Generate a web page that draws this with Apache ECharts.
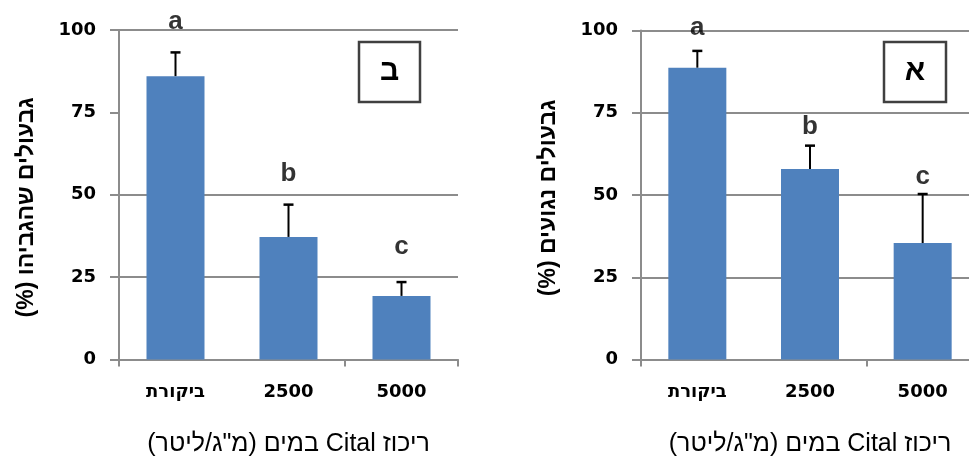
<!DOCTYPE html>
<html>
<head>
<meta charset="utf-8">
<script src="https://cdn.jsdelivr.net/npm/echarts@6/dist/echarts.min.js"></script>
<style>
html,body{margin:0;padding:0;background:#fff;overflow:hidden;}
#c{width:969px;height:457px;}
</style>
</head>
<body>
<div id="c"></div>
<script>
// ---- data ----
const categories = ['ביקורת', '2500', '5000'];
const yTicks = [0, 25, 50, 75, 100];
// panel ב (left): stems that were lifted
const meansB = [86.0, 37.2, 19.3];
const errB = [7.2, 9.8, 4.2];
const lettersB = ['a', 'b', 'c'];
const letterLevelB = [102.6, 56.3, 34.3];
// panel א (right): infected stems
const meansA = [88.7, 57.9, 35.4];
const errA = [5.1, 7.1, 14.9];
const lettersA = ['a', 'b', 'c'];
const letterLevelA = [100.8, 70.6, 55.6];

const RLE = '\u202B', PDF = '\u202C';
const xTitle = RLE + 'ריכוז Cital במים (מ"ג/ליטר)' + PDF;
const yTitleB = RLE + 'גבעולים שהגביהו (%)' + PDF;
const yTitleA = RLE + 'גבעולים נגועים (%)' + PDF;
const panelB = 'ב';
const panelA = 'א';

// ---- styles ----
const GRAY = '#8c8c8c';
const BAR = '#4f81bd';
const tickFont = {fontFamily: 'DejaVu Sans', fontWeight: 'bold', fontSize: 18, color: '#000'};

function xAxis(gi) {
  return {
    type: 'category', gridIndex: gi, data: categories,
    axisLine: {lineStyle: {color: GRAY, width: 2}},
    axisTick: {show: true, interval: 1, length: 7, lineStyle: {color: GRAY, width: 2}},
    axisLabel: Object.assign({margin: 24, interval: 0, formatter: v => (v === categories[0] ? RLE + v + PDF : v)}, tickFont),
    name: xTitle, nameLocation: 'middle', nameGap: 72,
    nameTextStyle: {fontFamily: 'Liberation Sans', fontSize: 25, color: '#000'}
  };
}
function yAxis(gi, hide75) {
  const c = hide75 ? [GRAY, GRAY, GRAY, 'rgba(0,0,0,0)', GRAY] : GRAY;
  return {
    type: 'value', gridIndex: gi, min: yTicks[0], max: yTicks[yTicks.length - 1], interval: 25,
    axisLine: {show: true, lineStyle: {color: GRAY, width: 2}},
    axisTick: {show: true, length: 9, lineStyle: {color: GRAY, width: 2}},
    axisLabel: Object.assign({margin: 23}, tickFont),
    splitLine: {show: true, lineStyle: {color: c, width: 2}}
  };
}
function barSeries(gi, means) {
  return {type: 'bar', xAxisIndex: gi, yAxisIndex: gi, data: means, barWidth: 58,
    itemStyle: {color: BAR}, silent: true, z: 2};
}
function errSeries(gi, means, errs) {
  return {
    type: 'custom', xAxisIndex: gi, yAxisIndex: gi, z: 3, silent: true,
    data: means.map((m, i) => [i, m, m + errs[i]]),
    renderItem: function (params, api) {
      const lo = api.coord([api.value(0), api.value(1)]);
      const hi = api.coord([api.value(0), api.value(2)]);
      const hw = 5;
      return {type: 'group', children: [
        {type: 'line', shape: {x1: lo[0], y1: lo[1], x2: hi[0], y2: hi[1]}, style: {stroke: '#000', lineWidth: 2}},
        {type: 'line', shape: {x1: hi[0] - hw, y1: hi[1], x2: hi[0] + hw, y2: hi[1]}, style: {stroke: '#000', lineWidth: 2.5}}
      ]};
    }
  };
}
function letterSeries(gi, levels, letters) {
  return {
    type: 'scatter', xAxisIndex: gi, yAxisIndex: gi, clip: false, silent: true, z: 4,
    symbolSize: 1, itemStyle: {color: 'rgba(0,0,0,0)'},
    data: levels.map((v, i) => [i, v]),
    label: {show: true, position: 'inside', formatter: p => letters[p.dataIndex],
      fontFamily: 'Liberation Sans', fontWeight: 'bold', fontSize: 26, color: '#000'}
  };
}

const chart = echarts.init(document.getElementById('c'), null, {renderer: 'canvas'});
chart.setOption({
  animation: false,
  backgroundColor: '#fff',
  grid: [
    {left: 119, top: 30, width: 339, height: 329.5, outerBoundsMode: 'none', containLabel: false},
    {left: 641, top: 30.5, width: 338, height: 329, outerBoundsMode: 'none', containLabel: false}
  ],
  xAxis: [xAxis(0), xAxis(1)],
  yAxis: [yAxis(0, true), yAxis(1, false)],
  series: [
    barSeries(0, meansB), errSeries(0, meansB, errB), letterSeries(0, letterLevelB, lettersB),
    barSeries(1, meansA), errSeries(1, meansA, errA), letterSeries(1, letterLevelA, lettersA)
  ],
  graphic: [
    {type: 'text', x: 27, y: 207.5, rotation: Math.PI / 2,
      style: {text: yTitleB, font: 'bold 23px "Liberation Sans"', fill: '#000', align: 'center', verticalAlign: 'middle'}},
    {type: 'text', x: 549, y: 198, rotation: Math.PI / 2,
      style: {text: yTitleA, font: 'bold 23px "Liberation Sans"', fill: '#000', align: 'center', verticalAlign: 'middle'}},
    {type: 'rect', shape: {x: 359, y: 42, width: 61, height: 60}, style: {fill: '#fff', stroke: '#404040', lineWidth: 2.5}, z: 10},
    {type: 'text', x: 389.5, y: 72, z: 11,
      style: {text: panelB, font: 'bold 30px "Liberation Sans"', fill: '#000', align: 'center', verticalAlign: 'middle'}},
    {type: 'rect', shape: {x: 884, y: 42, width: 62, height: 60}, style: {fill: '#fff', stroke: '#404040', lineWidth: 2.5}, z: 10},
    {type: 'text', x: 915, y: 72, z: 11,
      style: {text: panelA, font: 'bold 30px "Liberation Sans"', fill: '#000', align: 'center', verticalAlign: 'middle'}}
  ]
});
</script>
</body>
</html>
